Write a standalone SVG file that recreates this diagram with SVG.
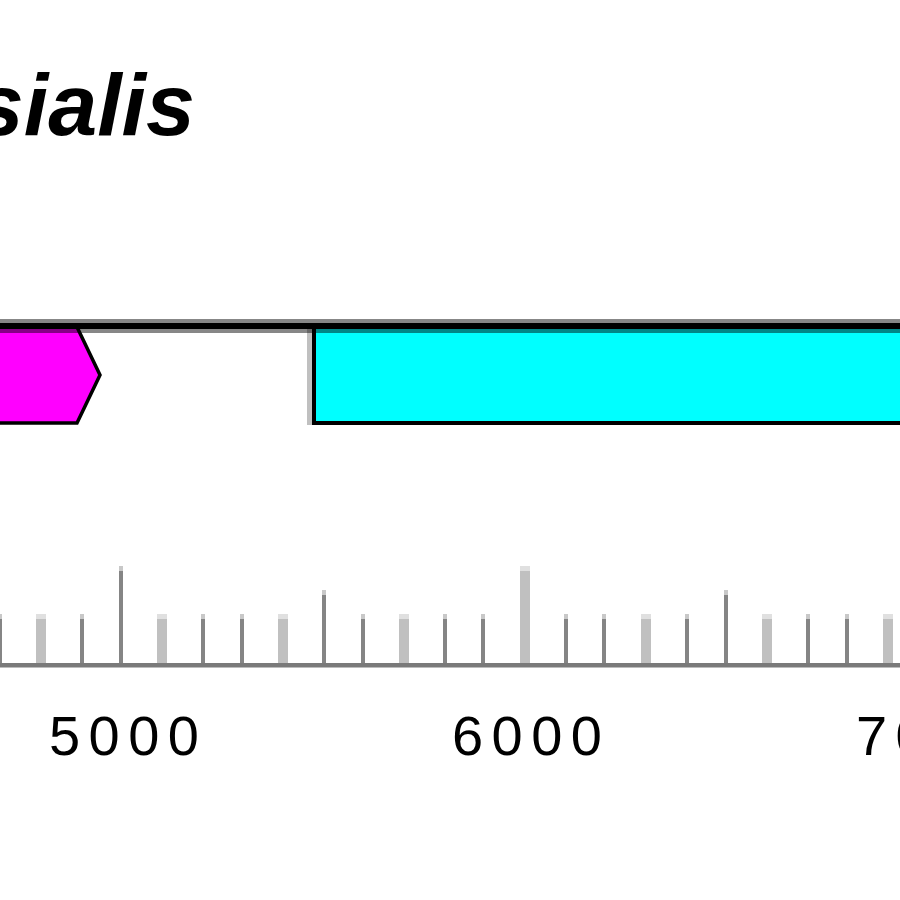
<svg xmlns="http://www.w3.org/2000/svg" width="900" height="900" viewBox="0 0 900 900">
<style>
.title{font-family:"Liberation Sans",Arial,sans-serif;font-weight:bold;font-style:italic;font-size:88px;fill:#000}
.num{font-family:"Liberation Sans",Arial,sans-serif;font-size:56px;fill:#000;text-anchor:middle}
.td{fill:#858585}
.tdc{fill:#c8c8c8}
.tl{fill:#c0c0c0}
.tlc{fill:#e0e0e0}
</style>
<rect width="900" height="900" fill="#fff"/>
<text class="title" x="195" y="135" text-anchor="end">sialis</text>

<g id="gene-magenta">
<polygon points="-10,327 77,327 100,375 77,423 -10,423" fill="#ff00ff" stroke="#000" stroke-width="3.5" stroke-linejoin="miter"/>
</g>
<g id="gene-cyan">
<rect x="307" y="327" width="5" height="98" fill="#c0c0c0"/>
<rect x="314" y="327" width="600" height="96" fill="#00ffff" stroke="#000" stroke-width="4"/>
</g>
<g id="backbone">
<rect x="0" y="319" width="900" height="14" fill="#000" opacity="0.47"/>
<rect x="0" y="323" width="900" height="6" fill="#000"/>
</g>

<g id="ruler">
<!-- minor dark ticks -->
<g>
<rect class="tdc" x="-2" y="614" width="4" height="5"/><rect class="td" x="-2" y="619" width="4" height="46"/>
<rect class="tdc" x="80" y="614" width="4" height="5"/><rect class="td" x="80" y="619" width="4" height="46"/>
<rect class="tdc" x="119" y="566" width="4" height="5"/><rect class="td" x="119" y="571" width="4" height="94"/>
<rect class="tdc" x="201" y="614" width="4" height="5"/><rect class="td" x="201" y="619" width="4" height="46"/>
<rect class="tdc" x="240" y="614" width="4" height="5"/><rect class="td" x="240" y="619" width="4" height="46"/>
<rect class="tdc" x="322" y="590" width="4" height="5"/><rect class="td" x="322" y="595" width="4" height="70"/>
<rect class="tdc" x="361" y="614" width="4" height="5"/><rect class="td" x="361" y="619" width="4" height="46"/>
<rect class="tdc" x="443" y="614" width="4" height="5"/><rect class="td" x="443" y="619" width="4" height="46"/>
<rect class="tdc" x="481" y="614" width="4" height="5"/><rect class="td" x="481" y="619" width="4" height="46"/>
<rect class="tdc" x="564" y="614" width="4" height="5"/><rect class="td" x="564" y="619" width="4" height="46"/>
<rect class="tdc" x="602" y="614" width="4" height="5"/><rect class="td" x="602" y="619" width="4" height="46"/>
<rect class="tdc" x="685" y="614" width="4" height="5"/><rect class="td" x="685" y="619" width="4" height="46"/>
<rect class="tdc" x="724" y="590" width="4" height="5"/><rect class="td" x="724" y="595" width="4" height="70"/>
<rect class="tdc" x="806" y="614" width="4" height="5"/><rect class="td" x="806" y="619" width="4" height="46"/>
<rect class="tdc" x="845" y="614" width="4" height="5"/><rect class="td" x="845" y="619" width="4" height="46"/>
</g>
<!-- light ticks -->
<g>
<rect class="tlc" x="36" y="614" width="10" height="5"/><rect class="tl" x="36" y="619" width="10" height="46"/>
<rect class="tlc" x="157" y="614" width="10" height="5"/><rect class="tl" x="157" y="619" width="10" height="46"/>
<rect class="tlc" x="278" y="614" width="10" height="5"/><rect class="tl" x="278" y="619" width="10" height="46"/>
<rect class="tlc" x="399" y="614" width="10" height="5"/><rect class="tl" x="399" y="619" width="10" height="46"/>
<rect class="tlc" x="520" y="566" width="10" height="5"/><rect class="tl" x="520" y="571" width="10" height="94"/>
<rect class="tlc" x="641" y="614" width="10" height="5"/><rect class="tl" x="641" y="619" width="10" height="46"/>
<rect class="tlc" x="762" y="614" width="10" height="5"/><rect class="tl" x="762" y="619" width="10" height="46"/>
<rect class="tlc" x="883" y="614" width="10" height="5"/><rect class="tl" x="883" y="619" width="10" height="46"/>
</g>
<rect x="0" y="663" width="900" height="4.5" fill="#7a7a7a"/>
<text class="num" x="124" y="755" textLength="150" lengthAdjust="spacing">5000</text>
<text class="num" x="527" y="755" textLength="150" lengthAdjust="spacing">6000</text>
<text class="num" x="931" y="755" textLength="150" lengthAdjust="spacing">7000</text>
</g>
</svg>
